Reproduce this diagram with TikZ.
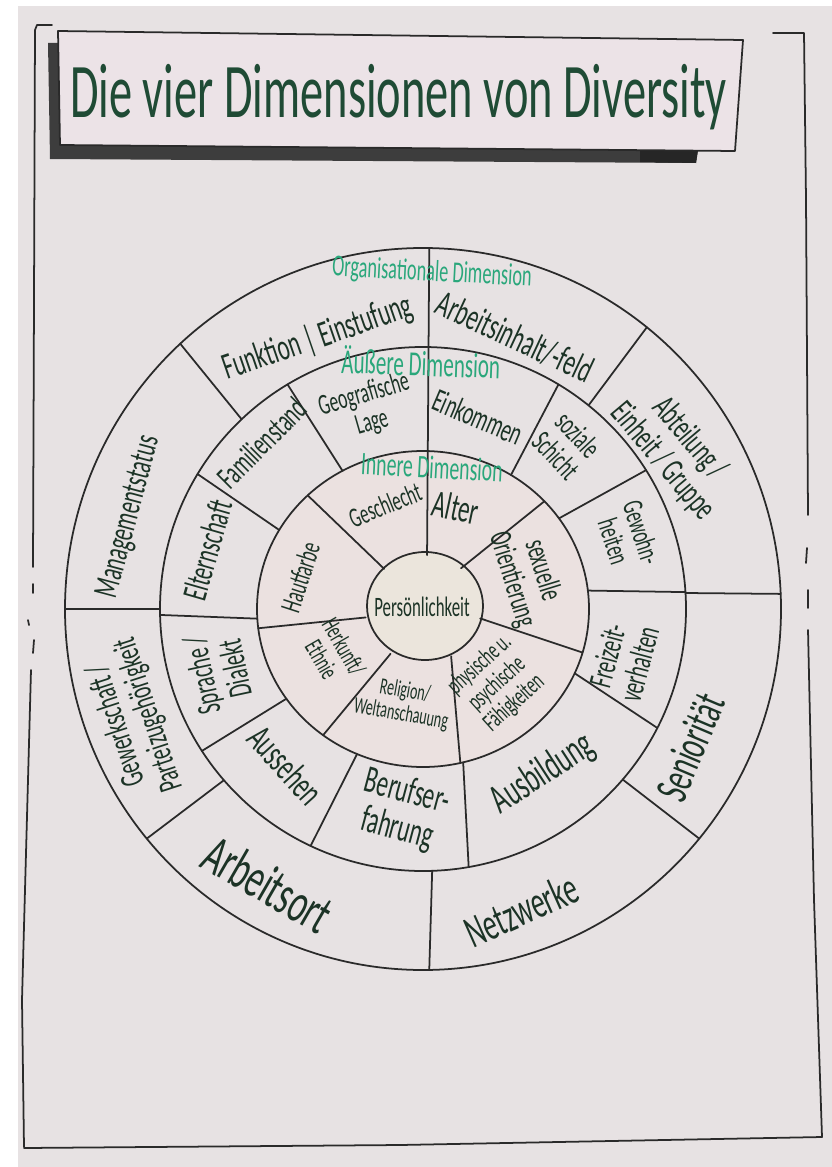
\documentclass[tikz,border=0pt]{standalone}
\usepackage{fontspec}
\setmainfont{Carlito}[FakeStretch=0.6]

\definecolor{paper}{HTML}{E7E2E3}
\definecolor{boxfill}{HTML}{ECE3E7}
\definecolor{ink}{HTML}{2A2A2A}
\definecolor{txt}{HTML}{1C3326}
\definecolor{titlegreen}{HTML}{1F4B35}
\definecolor{dimgreen}{HTML}{2AA77B}
\definecolor{shadow}{HTML}{3D3D3D}
\definecolor{corefill}{HTML}{EBE5DC}
\definecolor{innerfill}{HTML}{EBE1E0}

\newcommand{\fsz}[1]{\fontsize{#1}{#1}\selectfont}

\tikzset{
  pen/.style={draw=ink, line width=1.5pt, line cap=round, line join=round},
  lbl/.style={text=txt, align=center, inner sep=0pt},
  dimlbl/.style={text=dimgreen, inner sep=0pt},
}

\begin{document}
\begin{tikzpicture}[x=0.3mm, y=-0.3mm]
\useasboundingbox (0,0) rectangle (832,1167);

% paper
\path[fill=white] (0,0) rectangle (832,1167);
\path[fill=paper] (18,6) rectangle (832,1167);

% frame
\draw[pen] (52,25) -- (37,25) -- (35,30) -- (34,300) -- (33,567);
\draw[pen] (33,584) -- (33,593);
\draw[pen] (28,620) -- (29,625);
\draw[pen] (34,640) -- (33,653);
\draw[pen] (31,670) -- (22,1000) -- (24,1147);
\draw[pen] (24,1148) -- (400,1145) -- (822,1137);
\draw[pen] (773,33) -- (804,33) -- (806,200) -- (808,515);
\draw[pen] (807,548) -- (806,563);
\draw[pen] (808,590) -- (808,608);
\draw[pen] (808,630) -- (814,900) -- (822,1137);

% title box
\path[fill=shadow] (48,43) -- (60,43) -- (60,145) -- (698,150) -- (696,163) -- (50,159) -- cycle;
\path[fill=black!85] (640,148) -- (698,150) -- (696,163) -- (640,162) -- cycle;
\path[pen, fill=boxfill] (58,31) -- (743,40) -- (735,151) -- (60,145) -- cycle;
\node[text=titlegreen, anchor=base west, inner sep=0pt, font=\fsz{66}] (title) at (70,118) {Die vier Dimensionen von Diversity};

% wheel
\begin{scope}[shift={(423,609)}, yscale=-1]
\path[pen] (0,0) ellipse [x radius=358, y radius=361];
\path[pen] (0,0) ellipse [x radius=263, y radius=262];
\path[pen, fill=innerfill] (0,0) ellipse [x radius=166, y radius=158];
\path[pen, fill=corefill] (2,3) ellipse [x radius=58, y radius=54];

% top line
\draw[pen] (86:58 and 54) -- (89:358 and 361);

% inner ring
\draw[pen] (132:58 and 54) -- (134:166 and 158);
\draw[pen] (189:58 and 54) -- (187:166 and 158);
\draw[pen] (236:58 and 54) -- (233:166 and 158);
\draw[pen] (299:58 and 54) -- (283:166 and 158);
\draw[pen] (350:58 and 54) -- (344:166 and 158);
\draw[pen] (49:58 and 54) -- (43:166 and 158);

% middle ring
\draw[pen] (119:166 and 158) -- (121:263 and 262);
\draw[pen] (150:166 and 158) -- (149:263 and 262);
\draw[pen] (183.5:166 and 158) -- (181.3:263 and 262);
\draw[pen] (214.6:166 and 158) -- (212.8:263 and 262);
\draw[pen] (246.6:166 and 158) -- (244.7:263 and 262);
\draw[pen] (284:166 and 158) -- (280:263 and 262);
\draw[pen] (336:166 and 158) -- (333:263 and 262);
\draw[pen] (6.7:166 and 158) -- (3.7:263 and 262);
\draw[pen] (35:166 and 158) -- (32:263 and 262);
\draw[pen] (58:166 and 158) -- (59:263 and 262);

% outer ring
\draw[pen] (133.6:263 and 262) -- (132.7:358 and 361);
\draw[pen] (180:263 and 262) -- (180:358 and 361);
\draw[pen] (220.8:263 and 262) -- (219.5:358 and 361);
\draw[pen] (272:263 and 262) -- (271:358 and 361);
\draw[pen] (319.4:263 and 262) -- (320.5:358 and 361);
\draw[pen] (3.5:263 and 262) -- (2.4:358 and 361);
\draw[pen] (51:263 and 262) -- (51.3:358 and 361);
\end{scope}

% dimension labels
\node[dimlbl, font=\fsz{26}, rotate=-3] (orgdim) at (432,273) {Organisationale Dimension};
\node[dimlbl, font=\fsz{30}, rotate=-2] (aussendim) at (421,362) {Äußere Dimension};
\node[dimlbl, font=\fsz{28}, rotate=-3] (innendim) at (432,467) {Innere Dimension};

% outer ring labels
\node[lbl, font=\fsz{32}, rotate=19] (funktion) at (318,338) {Funktion | Einstufung};
\node[lbl, font=\fsz{32}, rotate=-25] (arbeitsinhalt) at (515,337) {Arbeitsinhalt/-feld};
\node[lbl, font=\fsz{30}, rotate=-50] (abteilung) at (676,450) {Abteilung /\\Einheit / Gruppe};
\node[lbl, font=\fsz{40}, rotate=67] (senioritaet) at (690,747) {Seniorität};
\node[lbl, font=\fsz{39}, rotate=24] (netzwerke) at (521,910) {Netzwerke};
\node[lbl, font=\fsz{48}, rotate=-30] (arbeitsort) at (268,884) {Arbeitsort};
\node[lbl, font=\fsz{29}, rotate=108] (gewerkschaft) at (133,720) {Gewerkschaft /\\Parteizugehörigkeit};
\node[lbl, font=\fsz{30}, rotate=75] (management) at (129,517) {Managementstatus};

% middle ring labels
\node[lbl, font=\fsz{25}, rotate=16] (geografisch) at (368,409) {Geografische\\Lage};
\node[lbl, font=\fsz{28}, rotate=45] (familienstand) at (262,443) {Familienstand};
\node[lbl, font=\fsz{30}, rotate=74] (elternschaft) at (207,550) {Elternschaft};
\node[lbl, font=\fsz{29}, rotate=102] (sprache) at (218,672) {Sprache /\\Dialekt};
\node[lbl, font=\fsz{33}, rotate=-48] (aussehen) at (286,765) {Aussehen};
\node[lbl, font=\fsz{33}, rotate=-15] (berufserfahrung) at (402,811) {Berufser-\\fahrung};
\node[lbl, font=\fsz{36}, rotate=33] (ausbildung) at (543,774) {Ausbildung};
\node[lbl, font=\fsz{28}, rotate=75] (freizeit) at (623,660) {Freizeit-\\verhalten};
\node[lbl, font=\fsz{25}, rotate=-72] (gewohnheiten) at (628,537) {Gewohn-\\heiten};
\node[lbl, font=\fsz{26}, rotate=-47] (soziale) at (567,445) {soziale\\Schicht};
\node[lbl, font=\fsz{28}, rotate=-23] (einkommen) at (478,417) {Einkommen};

% inner ring labels
\node[lbl, font=\fsz{24}, rotate=22] (geschlecht) at (385,505) {Geschlecht};
\node[lbl, font=\fsz{33}, rotate=-12] (alter) at (456,507) {Alter};
\node[lbl, font=\fsz{27}, rotate=-73] (sexuelle) at (527,575) {sexuelle\\Orientierung};
\node[lbl, font=\fsz{22}, rotate=42] (physisch) at (497,684) {physische u.\\psychische\\Fähigkeiten};
\node[lbl, font=\fsz{20}, rotate=-10] (religion) at (403,703) {Religion/\\Weltanschauung};
\node[lbl, font=\fsz{22}, rotate=-60] (herkunft) at (333,653) {Herkunft/\\Ethnie};
\node[lbl, font=\fsz{25}, rotate=72] (hautfarbe) at (300,577) {Hautfarbe};
\node[lbl, font=\fsz{24}] (persoenlichkeit) at (422,607) {Persönlichkeit};

\end{tikzpicture}
\end{document}
